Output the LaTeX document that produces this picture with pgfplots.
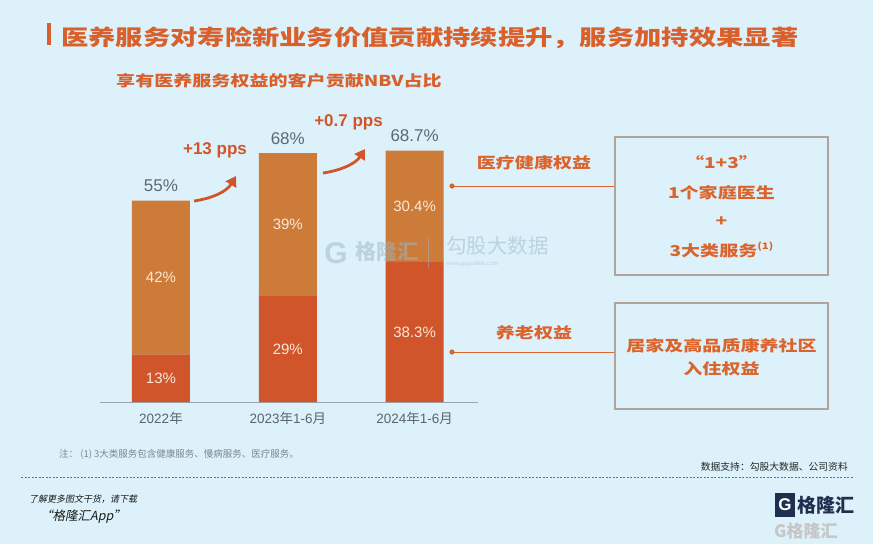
\documentclass[border=0pt]{standalone}
\usepackage{pgfplots}
\pgfplotsset{compat=1.18}
\usepackage{fontspec}
\usepackage{graphicx}
\usetikzlibrary{arrows.meta}
\setmainfont{Liberation Sans}
\newfontfamily\cjk{Noto Sans CJK SC}
\newfontfamily\cjkw[FakeStretch=1.27]{Noto Sans CJK SC}
\newfontfamily\cjks[FakeSlant=0.2]{Noto Sans CJK SC}
\newcommand\fs[1]{\fontsize{#1}{#1}\selectfont}
\definecolor{bg}{HTML}{DDF1FB}
\definecolor{titleor}{HTML}{D9602A}
\definecolor{txtor}{HTML}{DB642C}
\definecolor{bartop}{HTML}{CD7B38}
\definecolor{barbot}{HTML}{D1552A}
\definecolor{numgray}{HTML}{5E6873}
\definecolor{tickgray}{HTML}{5A6570}
\definecolor{axisgray}{HTML}{9AA6B2}
\definecolor{boxb}{HTML}{B0A398}
\definecolor{inlbl}{HTML}{FAE8DA}
\definecolor{wm}{HTML}{9DB5C8}
\definecolor{navy}{HTML}{1F2F4F}
\begin{document}
\begin{tikzpicture}
\begin{scope}[x=1pt,y=-1pt]
\fill[bg] (0,0) rectangle (873,544);
\useasboundingbox (0,0) rectangle (873,544);
% title
\fill[titleor] (47,23) rectangle (51,45);
\node[anchor=west, text=titleor, inner sep=0pt] at (61,37.5) {\cjkw\bfseries\fs{21.5}医养服务对寿险新业务价值贡献持续提升，服务加持效果显著};
\node[anchor=west, text=titleor, inner sep=0pt] at (116,81) {\cjkw\bfseries\fs{15}享有医养服务权益的客户贡献NBV占比};
% right labels and connectors
\node[text=txtor, inner sep=0pt] at (534,163) {\cjkw\bfseries\fs{15}医疗健康权益};
\node[text=txtor, inner sep=0pt] at (534,333) {\cjkw\bfseries\fs{15}养老权益};
\draw[txtor, line width=1pt] (452,186) -- (615,186);
\draw[txtor, line width=1pt] (452,352) -- (615,352);
\fill[txtor] (452,186) circle (2.6);
\fill[txtor] (452,352) circle (2.6);
\draw[boxb, line width=1.3pt] (615,137) rectangle (828,275);
\draw[boxb, line width=1.3pt] (615,303) rectangle (828,409);
\node[text=txtor, inner sep=0pt] at (721.5,162) {\cjkw\bfseries\fs{15}“1+3”};
\node[text=txtor, inner sep=0pt] at (721.5,193) {\cjkw\bfseries\fs{15}1个家庭医生};
\node[text=txtor, inner sep=0pt] at (721.5,222) {\cjkw\bfseries\fs{15}+};
\node[text=txtor, inner sep=0pt] at (721.5,250) {\cjkw\bfseries\fs{15}3大类服务\raisebox{0.45em}{\fs{9}(1)}};
\node[text=txtor, inner sep=0pt] at (721.5,346) {\cjkw\bfseries\fs{15}居家及高品质康养社区};
\node[text=txtor, inner sep=0pt] at (721.5,369) {\cjkw\bfseries\fs{15}入住权益};
% footer
\node[anchor=west, text=numgray!80, inner sep=0pt] at (59,454) {\cjk\fs{9.5}注： (1) 3大类服务包含健康服务、慢病服务、医疗服务。};
\node[anchor=east, text=black!85, inner sep=0pt] at (848,467) {\cjk\fs{9.8}数据支持：勾股大数据、公司资料};
\draw[black!55, line width=0.6pt, dash pattern=on 2pt off 1.5pt] (21,477) -- (853,477);
\node[anchor=west, text=black!90, inner sep=0pt] at (29,499) {\cjks\fs{9}了解更多图文干货，请下载};
\node[anchor=west, text=black!90, inner sep=0pt] at (40,517) {\cjks\fs{12.5}“格隆汇App”};
% logo
\fill[navy] (775,493) rectangle (795,517);
\node[text=white, inner sep=0pt] at (785,505) {\bfseries\fs{17}G};
\node[anchor=west, text=navy, inner sep=0pt] at (797,505) {\cjk\bfseries\fs{19}格隆汇};
\node[anchor=west, text=gray!45, inner sep=0pt] at (774,531) {\cjk\bfseries\fs{17}G格隆汇};
\end{scope}
\begin{axis}[
  at={(100pt,-402pt)}, anchor=south west,
  scale only axis, width=378pt, height=292.8pt,
  xmin=-0.481, xmax=2.50, ymin=0, ymax=80,
  enlargelimits=false, clip=false,
  axis x line*=bottom, axis y line=none,
  x axis line style={-, draw=axisgray, line width=1pt},
  ybar stacked, bar width=58pt,
  xtick={0,1,2},
  xticklabels={{2022{\cjk 年}},{2023{\cjk 年}1-6{\cjk 月}},{2024{\cjk 年}1-6{\cjk 月}}},
  x tick label style={font=\fs{13.5}, text=tickgray, yshift=-7pt},
  major tick length=0pt, ytick=\empty,
  point meta=explicit symbolic,
  nodes near coords={\pgfplotspointmeta},
  every node near coord/.style={anchor=center, text=inlbl, font=\fs{15}},
]
\addplot[fill=barbot, draw=none] coordinates {(0,13) [13\%] (1,29) [29\%] (2,38.3) [38.3\%]};
\addplot[fill=bartop, draw=none] coordinates {(0,42) [42\%] (1,39) [39\%] (2,30.4) [30.4\%]};
\node[text=numgray, font=\fs{17}, anchor=base, yshift=9pt] at (axis cs:0,55) {55\%};
\node[text=numgray, font=\fs{17}, anchor=base, yshift=9pt] at (axis cs:1,68) {68\%};
\node[text=numgray, font=\fs{17}, anchor=base, yshift=9pt] at (axis cs:2,68.7) {68.7\%};
\end{axis}
\begin{scope}[x=1pt,y=-1pt]
% arrows
\draw[barbot, line width=2.8pt, -{Triangle[length=10pt,width=12pt]}] (194,201) .. controls (214,198) and (227,191) .. (236,176);
\draw[barbot, line width=2.8pt, -{Triangle[length=10pt,width=12pt]}] (323,173) .. controls (343,170) and (356,163) .. (365,149);
\node[text=barbot, inner sep=0pt] at (215,150) {\bfseries\fs{17}+13 pps};
\node[text=barbot, inner sep=0pt] at (348.5,122) {\bfseries\fs{17}+0.7 pps};
% watermark
\begin{scope}[opacity=0.5]
\node[text=wm, inner sep=0pt] at (336,253) {\bfseries\fs{30}G};
\node[anchor=west, text=wm, inner sep=0pt] at (355,251) {\cjk\bfseries\fs{21}格隆汇};
\draw[wm, line width=0.8pt] (428,237) -- (428,268);
\node[anchor=west, text=wm, inner sep=0pt] at (446,246) {\cjk\fs{20.5}勾股大数据};
\node[anchor=west, text=wm, inner sep=0pt] at (446,264) {\fs{6}www.gugudata.com};
\end{scope}
\end{scope}
\end{tikzpicture}
\end{document}
